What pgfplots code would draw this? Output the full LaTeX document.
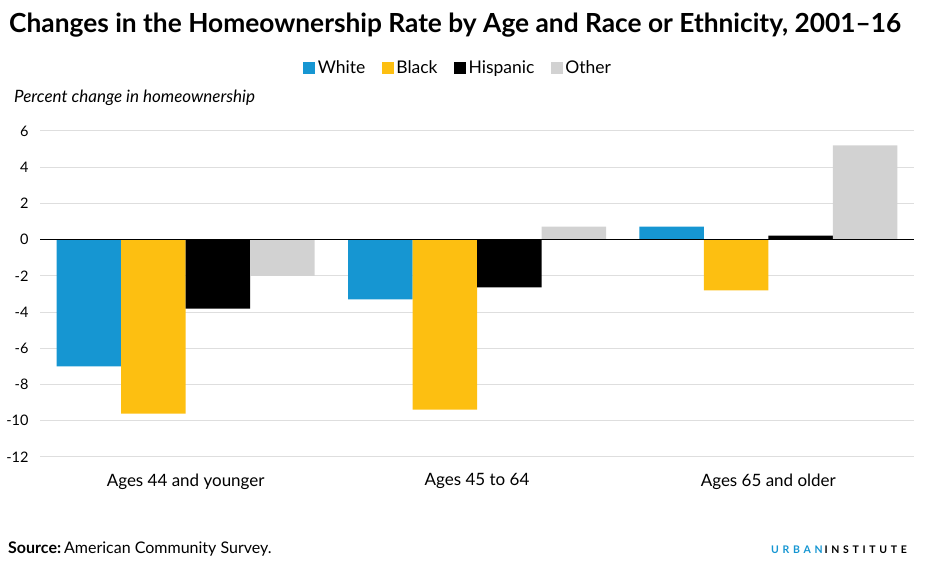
\documentclass[border=0pt]{standalone}
\usepackage{fontspec}
\setmainfont{Lato}
\usepackage{pgfplots}
\pgfplotsset{compat=1.18}
\definecolor{ublue}{HTML}{1696D2}
\definecolor{uyellow}{HTML}{FDBF11}
\definecolor{ugray}{HTML}{D2D2D2}
\definecolor{ugrid}{HTML}{DEDEDE}
\begin{document}
\begin{tikzpicture}[x=1bp,y=1bp]
\useasboundingbox (0,0) rectangle (929,571);
\node[anchor=base west, inner sep=0] at (9,538) {\fontsize{26.3bp}{30bp}\selectfont\bfseries Changes in the Homeownership Rate by Age and Race or Ethnicity, 2001--16};
\node[anchor=base west, inner sep=0] at (14,468) {\fontsize{17bp}{20bp}\selectfont\itshape Percent change in homeownership};
\begin{axis}[
  at={(40bp,114bp)}, anchor=south west, scale only axis,
  width=874bp, height=326bp,
  xmin=-0.5, xmax=2.5, ymin=-12, ymax=6,
  ybar=0pt, bar width=0.2214,
  axis line style={draw=none},
  major tick length=0pt,
  xtick={0,1,2},
  xticklabels={Ages 44 and younger, Ages 45 to 64, Ages 65 and older},
  ytick={-12,-10,...,6},
  ymajorgrids, grid style={color=ugrid, line width=1bp},
  /pgf/number format/assume math mode=true,
  yticklabel style={font=\fontsize{14.5bp}{17bp}\selectfont, xshift=-8bp},
  xticklabel style={font=\fontsize{17bp}{20bp}\selectfont, yshift=-13bp},
  legend columns=4,
  legend style={draw=none, at={(0.4788,1)}, anchor=center, yshift=63bp,
    font=\fontsize{17.5bp}{20bp}\selectfont,
    /tikz/every even column/.append style={column sep=14bp},
    nodes={inner xsep=2.5bp}},
  legend image code/.code={\fill[#1, draw=none] (0bp,-6bp) rectangle (12bp,6bp);},
]
\addplot[fill=ublue, draw=none] coordinates {(0,-7.0) (1,-3.3) (2,0.72)};
\addplot[fill=uyellow, draw=none] coordinates {(0,-9.6) (1,-9.39) (2,-2.8)};
\addplot[fill=black, draw=none] coordinates {(0,-3.81) (1,-2.63) (2,0.22)};
\addplot[fill=ugray, draw=none] coordinates {(0,-2.0) (1,0.72) (2,5.21)};
\legend{White, Black, Hispanic, Other}
\draw[black, line width=1bp] (axis cs:-0.5,0) -- (axis cs:2.5,0);
\end{axis}
\node[anchor=base west, inner sep=0] at (8,17) {\fontsize{16bp}{19bp}\selectfont\textbf{Source:}\hspace{3bp}American Community Survey.};
\node[anchor=base east, inner sep=0] at (907,17) {\fontsize{10.5bp}{12bp}\selectfont\bfseries\addfontfeature{LetterSpace=35}\textcolor{ublue}{URBAN}\hspace{2bp}INSTITUTE};
\end{tikzpicture}
\end{document}
